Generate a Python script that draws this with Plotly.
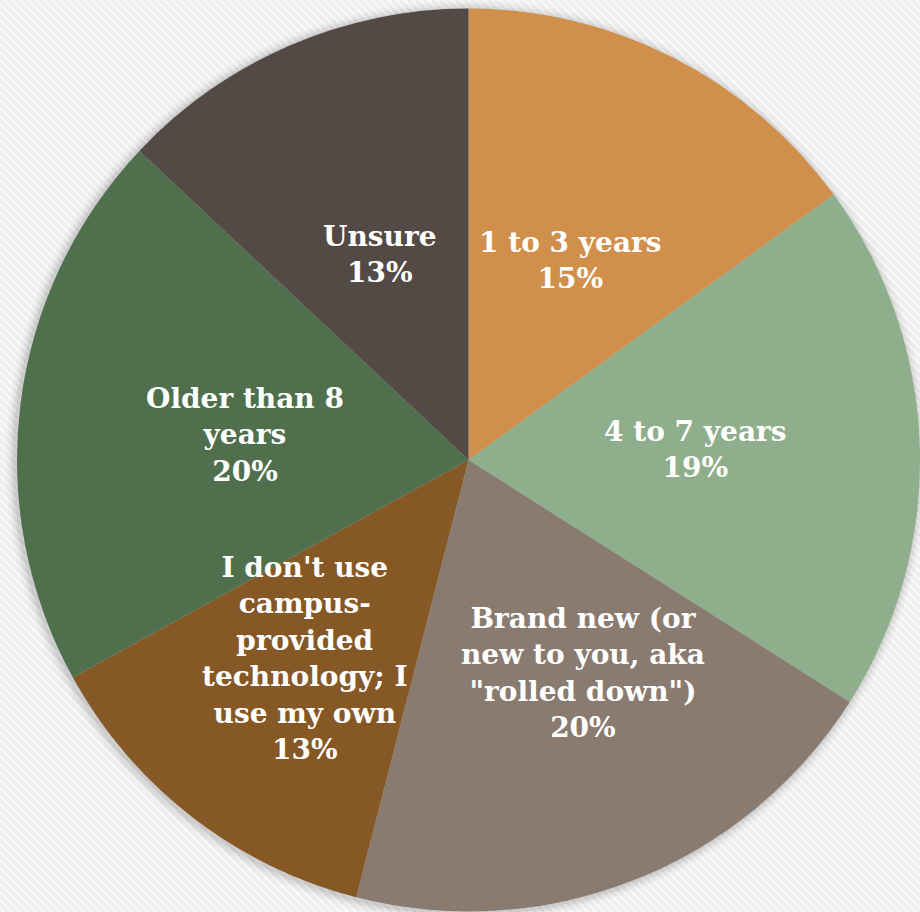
import math
import plotly.graph_objects as go

# Survey: age of campus-provided technology
categories = [
    "1 to 3 years",
    "4 to 7 years",
    "Brand new (or<br>new to you, aka<br>\"rolled down\")",
    "I don't use<br>campus-<br>provided<br>technology; I<br>use my own",
    "Older than 8<br>years",
    "Unsure",
]
shares = [15, 19, 20, 13, 20, 13]
colors = ["#D08F4B", "#8FAE8B", "#8A7B70", "#865825", "#4F6F4D", "#544A45"]

W, H = 920, 912
# pie placement (pixels)
left, top = 17, 8
dom_x = [left / W, 1.0]
dom_y = [0.0, 1 - top / H]
R = min(W - left, H - top) / 2
cx = left + R
cy = top + R

# label placement: fraction of radius and pixel nudges
label_rfrac = [0.5, 0.5, 0.5, 0.5, 0.5, 0.5]
label_nudge = [(0, 2), (1, -3), (31, 4), (-25, 21), (0, 4), (1, 2)]

fig = go.Figure()
fig.add_trace(go.Pie(
    labels=categories,
    values=shares,
    sort=False,
    direction="clockwise",
    rotation=0,
    marker=dict(colors=colors, line=dict(width=0)),
    textinfo="none",
    hoverinfo="label+percent",
    domain=dict(x=dom_x, y=dom_y),
    showlegend=False,
))

# labels at the middle angle of each slice
total = sum(shares)
cum = 0
annotations = []
for lab, v, rf, (nx, ny) in zip(categories, shares, label_rfrac, label_nudge):
    mid = (cum + v / 2) / total * 2 * math.pi
    cum += v
    px = cx + rf * R * math.sin(mid) + nx
    py = cy - rf * R * math.cos(mid) + ny
    annotations.append(dict(
        x=px / W, y=1 - py / H, xref="paper", yref="paper",
        text=f"{lab}<br>{round(v / total * 100)}%",
        showarrow=False, xanchor="center", yanchor="middle", align="center",
        font=dict(family="DejaVu Serif, Georgia, serif", size=28, color="white", weight="bold"),
    ))

# diagonal stripe texture on the background
segs = []
step = 8
x0 = -H
while x0 < W + step:
    segs.append(f"M{x0 / W:.5f},1 L{(x0 + H) / W:.5f},0")
    x0 += step
shapes = [dict(
    type="path", xref="paper", yref="paper", layer="below",
    path=" ".join(segs), line=dict(color="#EDEDED", width=3),
)]

# soft shadow ring around the pie
for i, a in enumerate([0.05, 0.04, 0.03, 0.02, 0.015]):
    r = R + 2 + 2 * i
    shapes.append(dict(
        type="circle", xref="paper", yref="paper", layer="below",
        x0=(cx - r - 2) / W, x1=(cx + r - 2) / W,
        y0=1 - (cy + r + 2) / H, y1=1 - (cy - r + 2) / H,
        fillcolor=f"rgba(0,0,0,{a})", line=dict(width=0),
    ))

fig.update_layout(
    width=W, height=H,
    margin=dict(l=0, r=0, t=0, b=0),
    paper_bgcolor="#F8F8F8",
    plot_bgcolor="#F8F8F8",
    annotations=annotations,
    shapes=shapes,
)

fig.write_html("out.html")
